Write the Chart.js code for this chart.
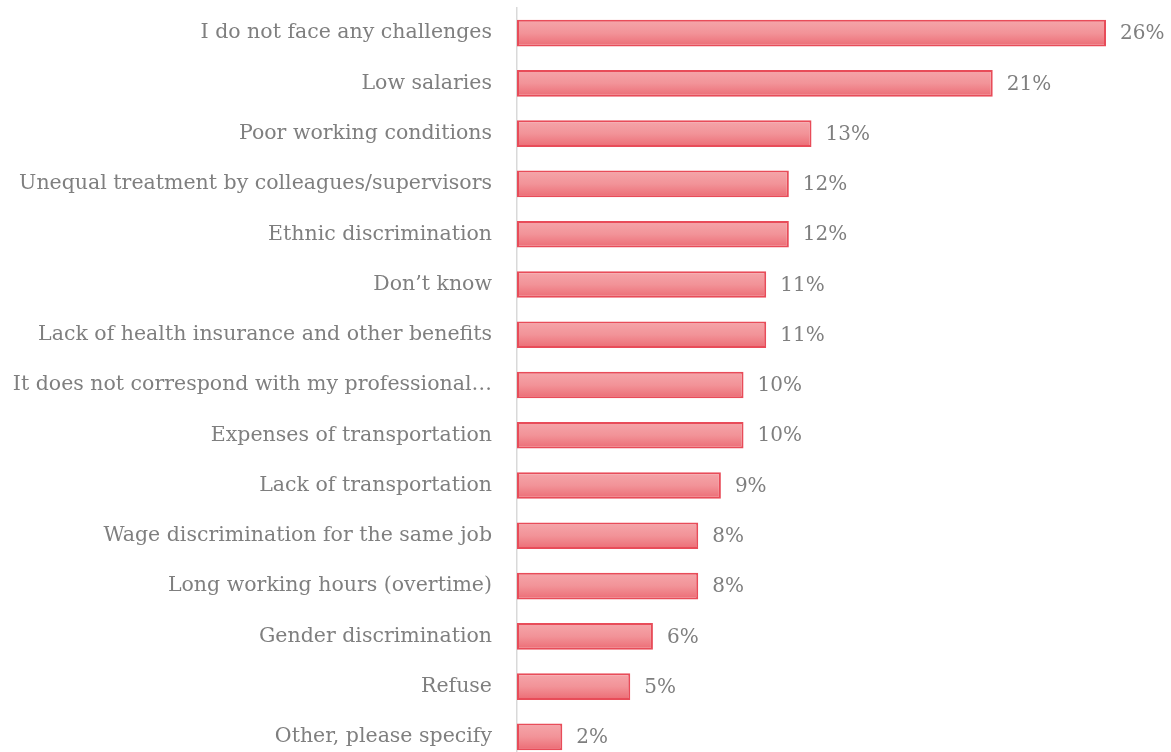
<!DOCTYPE html>
<html>
<head>
<meta charset="utf-8">
<script src="https://cdn.jsdelivr.net/npm/chart.js@4.4.0/dist/chart.umd.min.js"></script>
<style>
  html, body { margin: 0; padding: 0; background: #fff; overflow: hidden; }
</style>
</head>
<body>
<canvas id="chart" width="1171" height="762"></canvas>
<script>
const categories = [
  "I do not face any challenges",
  "Low salaries",
  "Poor working conditions",
  "Unequal treatment by colleagues/supervisors",
  "Ethnic discrimination",
  "Don\u2019t know",
  "Lack of health insurance and other benefits",
  "It does not correspond with my professional\u2026",
  "Expenses of transportation",
  "Lack of transportation",
  "Wage discrimination for the same job",
  "Long working hours (overtime)",
  "Gender discrimination",
  "Refuse",
  "Other, please specify"
]
const values = [26, 21, 13, 12, 12, 11, 11, 10, 10, 9, 8, 8, 6, 5, 2]

const FONT = "'DejaVu Serif', serif"
const TEXT_COLOR = "#7f7f7f"

// vertical gradient per bar, like the office chart fill
function barFill(ctx){
    const chart = ctx.chart
    const y = chart.scales && chart.scales.y
    if (!chart.chartArea || !y || y.height === 0){
        return "#f08890"
    }
    const center = y.getPixelForValue(ctx.dataIndex)
    const half = (y.height / categories.length) * 0.53 / 2
    const g = chart.ctx.createLinearGradient(0, center - half, 0, center + half)
    g.addColorStop(0, "#f5a6aa")
    g.addColorStop(0.5, "#f29398")
    g.addColorStop(1, "#ec6b74")
    return g
}

const valueLabels = {
    id: "valueLabels",
    afterDatasetsDraw(chart){
        const ctx = chart.ctx
        const meta = chart.getDatasetMeta(0)
        ctx.save()
        ctx.font = "20px " + FONT
        ctx.fillStyle = TEXT_COLOR
        ctx.textAlign = "left"
        ctx.textBaseline = "middle"
        meta.data.forEach((bar, i)=>{
            ctx.fillText(values[i] + "%", bar.x + 14, bar.y + 1)
        })
        ctx.restore()
    }
}

new Chart(document.getElementById("chart"), {
    type: "bar",
    data: {
        labels: categories,
        datasets: [{
            data: values,
            backgroundColor: barFill,
            borderColor: "#e84c59",
            borderWidth: 2,
            borderSkipped: false,
            barPercentage: 0.53,
            categoryPercentage: 1
        }]
    },
    options: {
        indexAxis: "y",
        responsive: false,
        animation: false,
        layout: { padding: { top: 8, right: 65, bottom: 0, left: 0 } },
        plugins: {
            legend: { display: false },
            tooltip: { enabled: false }
        },
        scales: {
            x: {
                min: 0,
                max: 26,
                display: false
            },
            y: {
                afterFit: (scale)=>{
                    scale.width = 517
                    scale.paddingTop = 0
                    scale.paddingBottom = 0
                },
                grid: { display: false, drawTicks: false },
                border: { display: true, color: "#d9d9d9", width: 1.5 },
                ticks: {
                    padding: 25,
                    color: TEXT_COLOR,
                    font: { family: FONT, size: 20.5 },
                    autoSkip: false
                }
            }
        }
    },
    plugins: [valueLabels]
})
</script>
</body>
</html>
